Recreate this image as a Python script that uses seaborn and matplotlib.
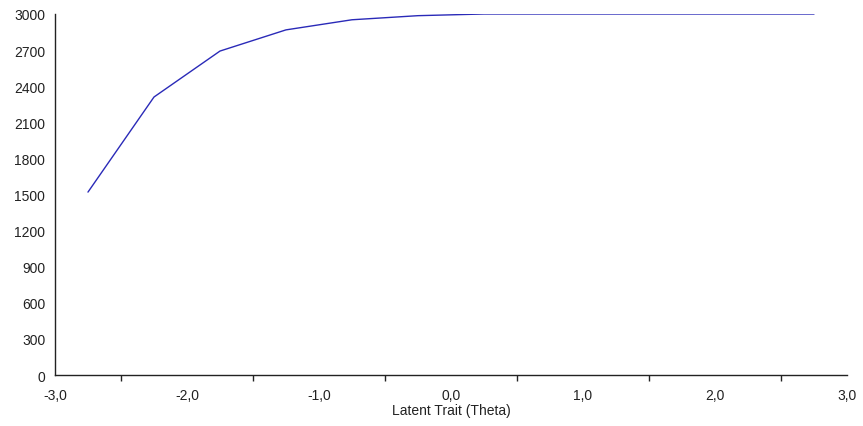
import matplotlib
matplotlib.use("Agg")
import matplotlib.pyplot as plt
import seaborn as sns
import pandas as pd

# Test information curve across the latent trait range
theta = [-2.75, -2.25, -1.75, -1.25, -0.75, -0.25, 0.25, 0.75, 1.25, 1.75, 2.25, 2.75]
information = [1520, 2310, 2692, 2868, 2952, 2986, 3000, 3000, 3000, 3000, 3000, 3000]

x_ticks = [-3, -2, -1, 0, 1, 2, 3]
x_tick_labels = ["-3,0", "-2,0", "-1,0", "0,0", "1,0", "2,0", "3,0"]
y_ticks = [0, 300, 600, 900, 1200, 1500, 1800, 2100, 2400, 2700, 3000]

sns.set_theme(style="white")
plt.rcParams["font.family"] = ["Liberation Sans", "DejaVu Sans"]

df = pd.DataFrame({"theta": theta, "information": information})

fig = plt.figure(figsize=(8.63, 4.27), dpi=100)
ax = fig.add_axes([0.0637, 0.1194, 0.9178, 0.8455])

sns.lineplot(data=df, x="theta", y="information", ax=ax, color="#2a2ab8", linewidth=1.0)

ax.set_xlim(-3, 3)
ax.set_ylim(0, 3000)
ax.set_xticks(x_ticks)
ax.set_xticklabels(x_tick_labels)
ax.set_xticks([-2.5, -1.5, -0.5, 0.5, 1.5, 2.5], minor=True)
ax.set_yticks(y_ticks)
ax.set_yticklabels([str(v) for v in y_ticks])

for side in ("top", "right"):
    ax.spines[side].set_visible(False)
for side in ("left", "bottom"):
    ax.spines[side].set_color("#222222")
    ax.spines[side].set_linewidth(1.0)

ax.tick_params(axis="both", which="major", direction="out", length=5, width=1,
               color="#222222", labelsize=10, labelcolor="#222222", pad=2)
ax.tick_params(axis="x", which="minor", direction="out", length=4, width=1,
               color="#222222", bottom=True)
ax.tick_params(axis="x", which="major", length=6, pad=3)

ax.set_xlabel("Latent Trait (Theta)", fontsize=10, color="#222222", labelpad=1)
ax.set_ylabel("")

fig.savefig("out.png", dpi=100, facecolor="white")
